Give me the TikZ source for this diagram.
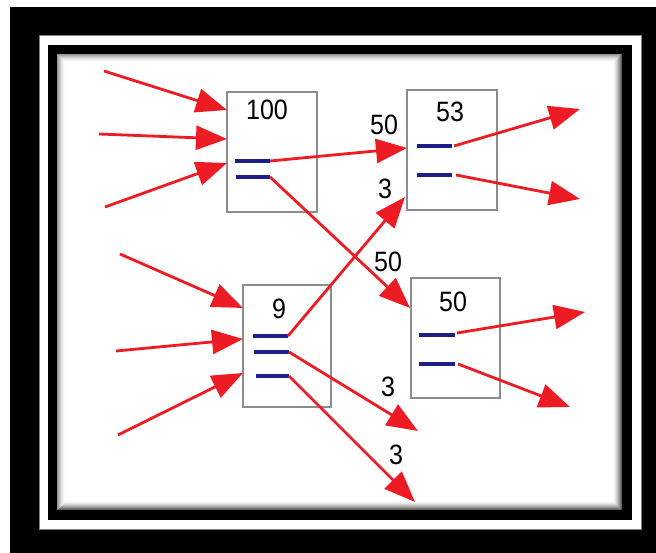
\documentclass[tikz,border=0pt]{standalone}
\usepackage{fontspec}
\setmainfont{Liberation Sans}
\usetikzlibrary{arrows.meta}
\definecolor{flowred}{RGB}{237,28,36}
\definecolor{slotblue}{RGB}{30,30,135}
\definecolor{boxgray}{RGB}{140,140,140}
\newcommand{\amount}[1]{\scalebox{1}[1.12]{#1}}
\begin{document}
\begin{tikzpicture}[x=1pt,y=-1pt,
  flow/.style={draw=flowred, line width=2.8pt, -{Triangle[length=31pt,width=24pt]}},
  slot/.style={draw=slotblue, line width=3.2pt},
  store/.style={draw=boxgray, line width=1.3pt, fill=white, inner sep=0pt},
  qty/.style={font=\fontsize{25}{25}\selectfont, inner sep=0pt},
]
\useasboundingbox (0,0) rectangle (656,553);
% framed mat
\fill[white] (0,0) rectangle (656,553);
\fill[black] (10,7) rectangle (656,553);
\filldraw[white, draw=gray, line width=0.8pt] (39,35) rectangle (641,529);
\fill[black] (48,45) rectangle (632,520);
\fill[white] (57,54) rectangle (622,510);
% inner shadow of the mat, fading inwards
\foreach \i in {0,...,8} {
  \pgfmathsetmacro{\op}{0.42*((9-\i)/9)^2}
  \draw[black, opacity=\op, line width=1pt] (57.5+\i,54.5+\i) rectangle (621.5-\i,509.5-\i);
}
\foreach \i in {0,...,9} {
  \pgfmathsetmacro{\op}{0.35*((10-\i)/10)^2}
  \draw[black, opacity=\op, line width=1pt] (621.5-\i,54.5+\i) -- (621.5-\i,509.5-\i) -- (57.5+\i,509.5-\i);
}

% stores
\node[store, minimum width=90pt, minimum height=120pt] (b100) at (272,152) {};
\node[store, minimum width=90pt, minimum height=120pt] (b53) at (452,150) {};
\node[store, minimum width=88pt, minimum height=122pt] (b9) at (287,346) {};
\node[store, minimum width=89pt, minimum height=120pt] (b50) at (455.5,338) {};

\node[qty] (t100) at (267,110) {\amount{100}};
\node[qty] (t53) at (450,112) {\amount{53}};
\node[qty] (t9) at (279,309) {\amount{9}};
\node[qty] (t50) at (453,302) {\amount{50}};

% slots
\coordinate (p1a) at (235,161); \coordinate (p1b) at (270,161);
\coordinate (p2a) at (236,177); \coordinate (p2b) at (270,177);
\coordinate (q1a) at (417,146); \coordinate (q1b) at (452,146);
\coordinate (q2a) at (417,175); \coordinate (q2b) at (452,175);
\coordinate (r1a) at (253,336); \coordinate (r1b) at (288,336);
\coordinate (r2a) at (254,352); \coordinate (r2b) at (289,352);
\coordinate (r3a) at (256,376); \coordinate (r3b) at (289,376);
\coordinate (s1a) at (419,335); \coordinate (s1b) at (455,335);
\coordinate (s2a) at (419,364); \coordinate (s2b) at (455,364);
\foreach \s in {p1,p2,q1,q2,r1,r2,r3,s1,s2} { \draw[slot] (\s a) -- (\s b); }

% free ends of the flows
\coordinate (i1) at (104,71);  \coordinate (e1) at (227,110);
\coordinate (i2) at (99,134);  \coordinate (e2) at (227,139);
\coordinate (i3) at (105,207); \coordinate (e3) at (227,163);
\coordinate (j1) at (120,254); \coordinate (f1) at (243,308);
\coordinate (j2) at (116,351); \coordinate (f2) at (243,339);
\coordinate (j3) at (118,435); \coordinate (f3) at (243,373);
\coordinate (g1) at (407,148); \coordinate (g2) at (410,308);
\coordinate (g3) at (405,197); \coordinate (g4) at (418,431);
\coordinate (g5) at (415,502);
\coordinate (o1) at (580,109); \coordinate (o2) at (580,199);
\coordinate (o3) at (585,312); \coordinate (o4) at (570,407);

% flows
\draw[flow] (i1) -- (e1);
\draw[flow] (i2) -- (e2);
\draw[flow] (i3) -- (e3);
\draw[flow] (j1) -- (f1);
\draw[flow] (j2) -- (f2);
\draw[flow] (j3) -- (f3);
\draw[flow] (p1b) -- (g1);
\draw[flow] (p2b) -- (g2);
\draw[flow] (r1b) -- (g3);
\draw[flow] (r2b) -- (g4);
\draw[flow] (r3b) -- (g5);
\draw[flow] ([xshift=2pt]q1b) -- (o1);
\draw[flow] ([xshift=4pt]q2b) -- (o2);
\draw[flow] ([xshift=2pt,yshift=2pt]s1b) -- (o3);
\draw[flow] ([xshift=3pt]s2b) -- (o4);

% flow amounts
\node[qty] (l1) at (384,125) {\amount{50}};
\node[qty] (l2) at (388,262) {\amount{50}};
\node[qty] (l3) at (385,189) {\amount{3}};
\node[qty] (l4) at (388,387) {\amount{3}};
\node[qty] (l5) at (396,455) {\amount{3}};
\end{tikzpicture}
\end{document}
